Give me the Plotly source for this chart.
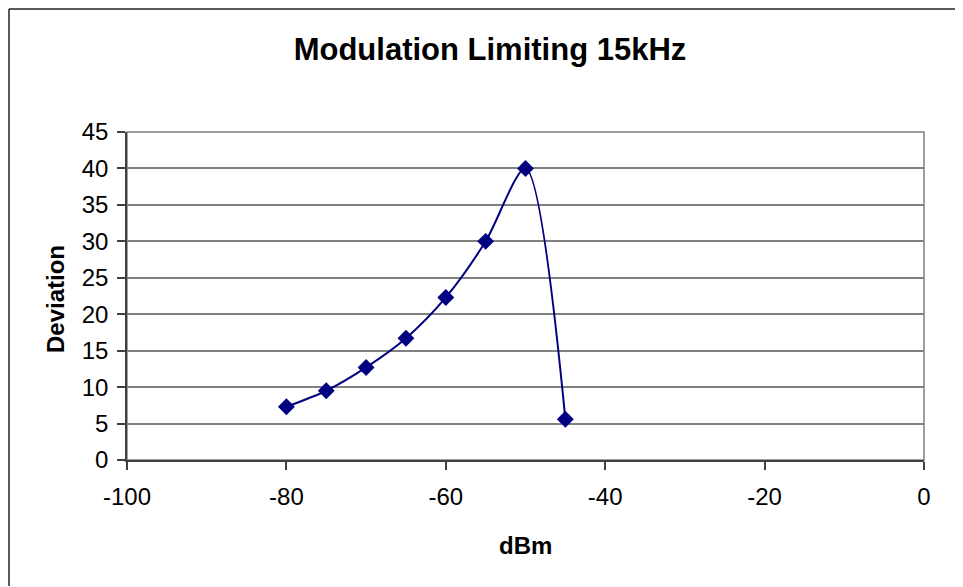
import plotly.graph_objects as go

# Data
dbm = [-80, -75, -70, -65, -60, -55, -50, -45]
deviation = [7.3, 9.5, 12.7, 16.7, 22.3, 30.0, 40.0, 5.6]

x_tick_vals = [-100, -80, -60, -40, -20, 0]
x_tick_text = ["-100", "-80", "-60", "-40", "-20", "0"]
y_tick_vals = [0, 5, 10, 15, 20, 25, 30, 35, 40, 45]
y_tick_text = ["0", "5", "10", "15", "20", "25", "30", "35", "40", "45"]

# page has an 8px body margin; figure is placed at (8, 8) and runs past the view
OFF = 8
W, H = 963, 587
# desired plot area in page pixels: x 127..924, y 132..460
L, T = 127 - OFF, 132 - OFF
R = W - (924 - OFF)
B = H - (460 - OFF)
pw, ph = W - L - R, H - T - B


def px_to_paper(px, py):
    """page pixel -> paper coords"""
    fx, fy = px - OFF, py - OFF
    return (fx - L) / pw, (H - B - fy) / ph


fig = go.Figure()
fig.add_trace(go.Scatter(
    x=dbm, y=deviation, mode="lines+markers",
    line=dict(color="#000080", width=2, shape="spline", smoothing=0.8),
    marker=dict(symbol="diamond", size=13, color="#000080"),
    showlegend=False, hoverinfo="x+y",
))

font = "Liberation Sans, Arial, sans-serif"

# outer chart border: only top and left edges fall inside the view
ox0, oy1 = px_to_paper(OFF + 1, OFF + 1)
ox1, oy0 = px_to_paper(962, 586)
fig.add_shape(type="line", xref="paper", yref="paper", x0=ox0, x1=ox1, y0=oy1, y1=oy1,
              line=dict(color="#222222", width=1.5), layer="below")
fig.add_shape(type="line", xref="paper", yref="paper", x0=ox0, x1=ox0, y0=oy0, y1=oy1,
              line=dict(color="#222222", width=1.5), layer="below")
# plot area border (top/right)
fig.add_shape(type="rect", xref="paper", yref="paper", x0=0, x1=1, y0=0, y1=1,
              line=dict(color="#808080", width=1.5), layer="below")

dx, dy = px_to_paper(55, 299)
fig.add_annotation(text="<b>Deviation</b>", xref="paper", yref="paper", x=dx, y=dy,
                   textangle=-90, showarrow=False, xanchor="center", yanchor="middle",
                   font=dict(family=font, size=24, color="black"))
bx, by = px_to_paper(525.5, 545)
fig.add_annotation(text="<b>dBm</b>", xref="paper", yref="paper", x=bx, y=by,
                   showarrow=False, xanchor="center", yanchor="middle",
                   font=dict(family=font, size=24, color="black"))

fig.update_layout(
    width=W, height=H,
    margin=dict(l=L, r=R, t=T, b=B, autoexpand=False),
    paper_bgcolor="white", plot_bgcolor="white",
    title=dict(text="<b>Modulation Limiting 15kHz</b>", x=(490 - OFF) / W, xanchor="center",
               y=1 - (49 - OFF) / H, yanchor="middle", xref="container", yref="container",
               font=dict(family=font, size=31, color="black")),
    font=dict(family=font, size=24, color="black"),
    xaxis=dict(range=[-100, 0], tickvals=x_tick_vals, ticktext=x_tick_text,
               showgrid=False, zeroline=False, showline=True, linecolor="#404040",
               linewidth=1.5, ticks="outside", ticklen=8, tickcolor="#404040",
               tickwidth=1.5, ticklabelstandoff=6, fixedrange=True),
    yaxis=dict(range=[0, 45], tickvals=y_tick_vals, ticktext=y_tick_text,
               showgrid=True, gridcolor="#808080", gridwidth=1.5, zeroline=False,
               showline=True, linecolor="#404040", linewidth=1.5, ticks="outside",
               ticklen=8, tickcolor="#404040", tickwidth=1.5, ticklabelstandoff=4,
               fixedrange=True),
)

fig.write_html("out.html")
